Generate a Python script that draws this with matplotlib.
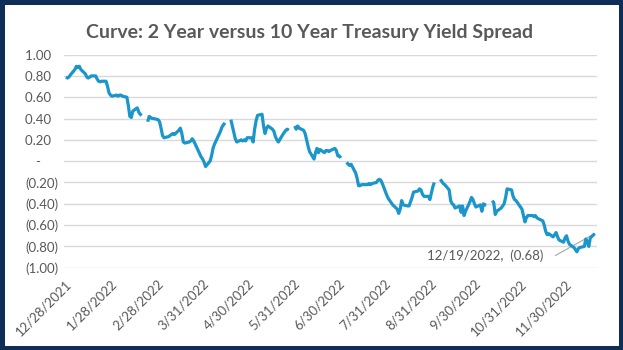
import numpy as np
import pandas as pd
import matplotlib
matplotlib.use("Agg")
import matplotlib.pyplot as plt
import matplotlib.transforms as mtransforms
from matplotlib.ticker import FuncFormatter, FixedLocator
from matplotlib.patches import Rectangle

# ---------------- data ----------------
title = "Curve: 2 Year versus 10 Year Treasury Yield Spread"
start_date = "2021-12-28"
end_date = "2022-12-19"

# one value per weekday; None = holiday gap in the series
dec21 = [0.79, 0.78, 0.79, 0.81]
jan22 = [0.86, 0.89, 0.88, 0.89, 0.86, 0.82, 0.79, 0.78, 0.79, 0.80, 0.80,
         0.77, 0.75, 0.745, 0.75, 0.75, 0.70, 0.64, 0.62, 0.61, 0.62]
feb22 = [0.61, 0.62, 0.62, 0.61, 0.60, 0.52, 0.42, 0.41, 0.47, 0.50,
         0.46, 0.44, 0.43, None, 0.37, 0.42, 0.41, 0.40, 0.40, 0.39]
mar22 = [0.37, 0.31, 0.24, 0.22, 0.23, 0.24, 0.25, 0.26, 0.25, 0.29, 0.31,
         0.26, 0.18, 0.17, 0.18, 0.19, 0.21, 0.19, 0.16, 0.07, 0.04, 0.02, -0.01]
apr22 = [-0.05, 0.00, 0.05, 0.12, 0.16, 0.19, 0.28, 0.32, 0.34, 0.36, None,
         0.39, 0.33, 0.27, 0.21, 0.18, 0.20, 0.19, 0.20, 0.19, 0.22]
may22 = [0.22, 0.18, 0.30, 0.38, 0.43, 0.44, 0.33, 0.26, 0.31, 0.33, 0.30,
         0.28, 0.23, 0.20, 0.18, 0.25, 0.27, 0.29, 0.30, 0.29, None, 0.33]
jun22 = [0.30, 0.33, 0.31, 0.29, 0.26, 0.20, 0.14, 0.09, 0.02, 0.08, 0.12,
         0.08, 0.11, 0.08, 0.10, 0.10, 0.09, 0.10, 0.12, 0.10, 0.05, 0.05]
jul22 = [0.03, None, -0.01, -0.03, -0.04, -0.03, -0.11, -0.16, -0.23, -0.23,
         -0.22, -0.22, -0.22, -0.21, -0.22, -0.21, -0.20, -0.18, -0.17, -0.18, -0.21]
aug22 = [-0.32, -0.35, -0.37, -0.39, -0.41, -0.45, -0.49, -0.45, -0.37, -0.41,
         -0.42, -0.42, -0.38, -0.34, -0.29, -0.28, -0.26, -0.27, -0.31, -0.33,
         -0.33, -0.36, -0.30]
sep22 = [-0.24, -0.20, None, -0.17, -0.19, -0.21, -0.22, -0.27, -0.37, -0.40,
         -0.41, -0.44, -0.42, -0.48, -0.42, -0.51, -0.47, -0.38, -0.34, -0.36,
         -0.40, -0.43]
oct22 = [-0.41, -0.47, -0.40, -0.41, -0.41, None, -0.37, -0.39, -0.50, -0.47,
         -0.44, -0.42, -0.40, -0.34, -0.26, -0.27, -0.33, -0.36, -0.37, -0.39, -0.45]
nov22 = [-0.51, -0.57, -0.53, -0.51, -0.51, -0.52, -0.51, -0.53, -0.54, -0.56,
         -0.60, -0.66, -0.69, -0.68, -0.71, -0.69, -0.67, -0.71, -0.74, -0.76,
         -0.72, -0.70]
dec22 = [-0.75, -0.78, -0.81, -0.83, -0.85, -0.82, -0.81, -0.80, -0.73, -0.76,
         -0.80, -0.72, -0.68]

x_tick_dates = ["2021-12-28", "2022-01-28", "2022-02-28", "2022-03-31",
                "2022-04-30", "2022-05-31", "2022-06-30", "2022-07-31",
                "2022-08-31", "2022-09-30", "2022-10-31", "2022-11-30"]
y_ticks = [1.0, 0.8, 0.6, 0.4, 0.2, 0.0, -0.2, -0.4, -0.6, -0.8, -1.0]
label_text = "12/19/2022,  (0.68)"

# ---------------- build ----------------
values = np.array(dec21 + jan22 + feb22 + mar22 + apr22 + may22 + jun22 +
                  jul22 + aug22 + sep22 + oct22 + nov22 + dec22, dtype=float)
dates = pd.bdate_range(start_date, end_date)
n = min(len(dates), len(values))
dates = dates[:n]
values = values[:n]

LINE = "#1B96CB"
NAVY = "#0F2E57"
GRID = "#D9D9D9"
TXT = "#595959"
FONT = ["Lato", "DejaVu Sans"]
plt.rcParams["font.family"] = FONT

fig = plt.figure(figsize=(6.23, 3.5), dpi=100)
fig.patch.set_facecolor("white")
ax = fig.add_axes([0.1021, 0.235, 0.8554, 0.609])

ax.plot(dates, values, color=LINE, lw=2.3, solid_joinstyle="round",
        solid_capstyle="butt", zorder=3)

t0 = pd.Timestamp(start_date)
ax.set_xlim(t0 - pd.Timedelta(days=1.6), t0 + pd.Timedelta(days=357.2))
ax.set_ylim(-1.0, 1.0)

ax.yaxis.set_major_locator(FixedLocator(y_ticks))


def yfmt(v, pos):
    if abs(v) < 1e-9:
        return "-     "
    if v > 0:
        return f"{v:.2f}  "
    return f"({abs(v):.2f})"


ax.yaxis.set_major_formatter(FuncFormatter(yfmt))
ax.grid(axis="y", color=GRID, lw=1.0, zorder=0)
ax.grid(axis="x", visible=False)
for s in ax.spines.values():
    s.set_visible(False)

ticks = [pd.Timestamp(d) for d in x_tick_dates]
ax.set_xticks(ticks)
ax.set_xticklabels([f"{d.month}/{d.day}/{d.year}" for d in ticks],
                   rotation=45, ha="right", va="center", rotation_mode="anchor")
ax.tick_params(axis="x", length=0, pad=10, labelsize=9.5, colors=TXT)
ax.tick_params(axis="y", length=0, pad=4, labelsize=9.5, colors=TXT)
shift = mtransforms.ScaledTranslation(3 / 100, 0, fig.dpi_scale_trans)
for lab in ax.get_xticklabels():
    lab.set_transform(lab.get_transform() + shift)

# data label for last point with leader line
last_d, last_v = dates[-1], values[-1]
ax.annotate("", xy=(last_d, last_v),
            xytext=(last_d - pd.Timedelta(days=26.5), last_v - 0.205),
            arrowprops=dict(arrowstyle="-", color="#A6A6A6", lw=0.8,
                            shrinkA=0, shrinkB=0), zorder=2)
ax.text(last_d - pd.Timedelta(days=34.5), last_v - 0.205, label_text,
        ha="right", va="center", fontsize=9.5, color=TXT)

fig.text(0.497, 0.906, title, ha="center", va="center", fontsize=14,
         fontweight="bold", color=TXT)

fig.patches.append(Rectangle((0.0036, 0.0064), 0.9928, 0.9872,
                             transform=fig.transFigure, fill=False,
                             edgecolor=NAVY, lw=3.6, zorder=10))

fig.savefig("out.png", dpi=100, facecolor="white")
